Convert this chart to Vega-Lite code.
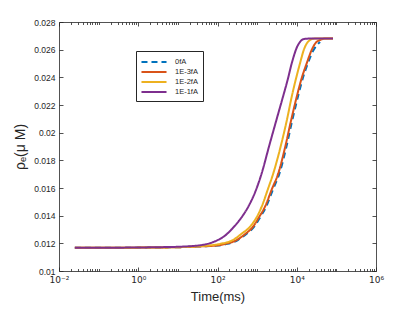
{
  "$schema": "https://vega.github.io/schema/vega-lite/v6.json",
  "width": 317,
  "height": 249,
  "autosize": {"type": "none"},
  "padding": {"left": 59, "top": 22, "right": 39, "bottom": 41},
  "background": "white",
  "config": {
    "view": {"stroke": null},
    "font": "Liberation Sans",
    "axis": {
      "domainColor": "#262626",
      "domainWidth": 0.8,
      "tickColor": "#262626",
      "tickWidth": 0.8,
      "labelColor": "#262626",
      "labelFont": "Liberation Sans",
      "labelFontSize": 8.5,
      "titleColor": "#262626",
      "titleFont": "Liberation Sans",
      "titleFontWeight": "normal",
      "grid": false
    },
    "legend": {
      "orient": "none",
      "legendX": 77,
      "legendY": 29,
      "title": null,
      "strokeColor": "#262626",
      "fillColor": "white",
      "padding": 5,
      "labelFont": "Liberation Sans",
      "labelFontSize": 7.5,
      "labelColor": "#262626",
      "symbolType": "M-2.7,0H2.7",
      "symbolSize": 86,
      "symbolStrokeWidth": 2,
      "symbolOffset": 7,
      "rowPadding": 0,
      "labelOffset": 15
    }
  },
  "data": {
    "values": [
      {"s": "0fA", "t": 0.02512, "y": 0.01168},
      {"s": "0fA", "t": 1, "y": 0.01169},
      {"s": "0fA", "t": 10, "y": 0.01172},
      {"s": "0fA", "t": 31.62, "y": 0.01177},
      {"s": "0fA", "t": 100, "y": 0.01184},
      {"s": "0fA", "t": 177.8, "y": 0.01196},
      {"s": "0fA", "t": 327.3, "y": 0.01224},
      {"s": "0fA", "t": 537.0, "y": 0.01268},
      {"s": "0fA", "t": 843.3, "y": 0.0132},
      {"s": "0fA", "t": 1202, "y": 0.0139},
      {"s": "0fA", "t": 1694, "y": 0.01465},
      {"s": "0fA", "t": 2512, "y": 0.0159},
      {"s": "0fA", "t": 3664, "y": 0.01706},
      {"s": "0fA", "t": 5408, "y": 0.0189},
      {"s": "0fA", "t": 7586, "y": 0.0208},
      {"s": "0fA", "t": 10715, "y": 0.0226},
      {"s": "0fA", "t": 14125, "y": 0.0239},
      {"s": "0fA", "t": 19055, "y": 0.02501},
      {"s": "0fA", "t": 25704, "y": 0.0259},
      {"s": "0fA", "t": 31623, "y": 0.0263},
      {"s": "0fA", "t": 38905, "y": 0.02655},

      {"s": "1E-3fA", "t": 0.02512, "y": 0.01168},
      {"s": "1E-3fA", "t": 1, "y": 0.01169},
      {"s": "1E-3fA", "t": 10, "y": 0.01172},
      {"s": "1E-3fA", "t": 31.62, "y": 0.01177},
      {"s": "1E-3fA", "t": 100, "y": 0.01185},
      {"s": "1E-3fA", "t": 158.5, "y": 0.01196},
      {"s": "1E-3fA", "t": 305.5, "y": 0.01224},
      {"s": "1E-3fA", "t": 501.2, "y": 0.01268},
      {"s": "1E-3fA", "t": 787.0, "y": 0.0132},
      {"s": "1E-3fA", "t": 1122, "y": 0.0139},
      {"s": "1E-3fA", "t": 1581, "y": 0.01465},
      {"s": "1E-3fA", "t": 2344, "y": 0.0159},
      {"s": "1E-3fA", "t": 3420, "y": 0.01706},
      {"s": "1E-3fA", "t": 5047, "y": 0.0189},
      {"s": "1E-3fA", "t": 7079, "y": 0.0208},
      {"s": "1E-3fA", "t": 10000, "y": 0.0226},
      {"s": "1E-3fA", "t": 13183, "y": 0.0239},
      {"s": "1E-3fA", "t": 17824, "y": 0.02501},
      {"s": "1E-3fA", "t": 23988, "y": 0.026},
      {"s": "1E-3fA", "t": 30200, "y": 0.0265},
      {"s": "1E-3fA", "t": 38637, "y": 0.0267},
      {"s": "1E-3fA", "t": 50119, "y": 0.0268},
      {"s": "1E-3fA", "t": 82224, "y": 0.0268},

      {"s": "1E-2fA", "t": 0.02512, "y": 0.01168},
      {"s": "1E-2fA", "t": 1, "y": 0.01169},
      {"s": "1E-2fA", "t": 10, "y": 0.01172},
      {"s": "1E-2fA", "t": 31.62, "y": 0.01178},
      {"s": "1E-2fA", "t": 63.1, "y": 0.01185},
      {"s": "1E-2fA", "t": 115.6, "y": 0.01196},
      {"s": "1E-2fA", "t": 245.5, "y": 0.01224},
      {"s": "1E-2fA", "t": 398.1, "y": 0.01268},
      {"s": "1E-2fA", "t": 660.7, "y": 0.0132},
      {"s": "1E-2fA", "t": 1000, "y": 0.01395},
      {"s": "1E-2fA", "t": 1303, "y": 0.01465},
      {"s": "1E-2fA", "t": 1862, "y": 0.0159},
      {"s": "1E-2fA", "t": 2559, "y": 0.01706},
      {"s": "1E-2fA", "t": 4169, "y": 0.0193},
      {"s": "1E-2fA", "t": 5623, "y": 0.0209},
      {"s": "1E-2fA", "t": 7464, "y": 0.0226},
      {"s": "1E-2fA", "t": 9550, "y": 0.0239},
      {"s": "1E-2fA", "t": 12078, "y": 0.02501},
      {"s": "1E-2fA", "t": 15136, "y": 0.026},
      {"s": "1E-2fA", "t": 21577, "y": 0.0267},
      {"s": "1E-2fA", "t": 28184, "y": 0.0268},
      {"s": "1E-2fA", "t": 82224, "y": 0.0268},

      {"s": "1E-1fA", "t": 0.02512, "y": 0.01168},
      {"s": "1E-1fA", "t": 0.1, "y": 0.01168},
      {"s": "1E-1fA", "t": 1, "y": 0.0117},
      {"s": "1E-1fA", "t": 3.162, "y": 0.01172},
      {"s": "1E-1fA", "t": 10, "y": 0.01175},
      {"s": "1E-1fA", "t": 19.95, "y": 0.01179},
      {"s": "1E-1fA", "t": 36.14, "y": 0.01186},
      {"s": "1E-1fA", "t": 63.1, "y": 0.01200},
      {"s": "1E-1fA", "t": 95.5, "y": 0.01220},
      {"s": "1E-1fA", "t": 158.5, "y": 0.01258},
      {"s": "1E-1fA", "t": 251.2, "y": 0.01315},
      {"s": "1E-1fA", "t": 398.1, "y": 0.01385},
      {"s": "1E-1fA", "t": 598.4, "y": 0.01465},
      {"s": "1E-1fA", "t": 891.3, "y": 0.0157},
      {"s": "1E-1fA", "t": 1303, "y": 0.01706},
      {"s": "1E-1fA", "t": 1995, "y": 0.019},
      {"s": "1E-1fA", "t": 3162, "y": 0.02105},
      {"s": "1E-1fA", "t": 4498, "y": 0.0226},
      {"s": "1E-1fA", "t": 5929, "y": 0.02385},
      {"s": "1E-1fA", "t": 7464, "y": 0.02501},
      {"s": "1E-1fA", "t": 8913, "y": 0.02575},
      {"s": "1E-1fA", "t": 10000, "y": 0.02615},
      {"s": "1E-1fA", "t": 12023, "y": 0.02655},
      {"s": "1E-1fA", "t": 14388, "y": 0.02675},
      {"s": "1E-1fA", "t": 19953, "y": 0.0268},
      {"s": "1E-1fA", "t": 82224, "y": 0.0268}
    ]
  },
  "layer": [
    {
      "mark": {"type": "line", "opacity": 0},
      "encoding": {
        "x": {
          "field": "t", "type": "quantitative",
          "scale": {"type": "log", "domain": [0.01, 1000000], "nice": false},
          "axis": {
            "orient": "top", "labels": false, "title": null,
            "values": [0.01,0.02,0.03,0.04,0.05,0.06,0.07,0.08,0.09,0.1,0.2,0.3,0.4,0.5,0.6,0.7,0.8,0.9,1,2,3,4,5,6,7,8,9,10,20,30,40,50,60,70,80,90,100,200,300,400,500,600,700,800,900,1000,2000,3000,4000,5000,6000,7000,8000,9000,10000,20000,30000,40000,50000,60000,70000,80000,90000,100000,200000,300000,400000,500000,600000,700000,800000,900000,1000000],
            "tickSize": {"condition": {"test": "datum.value==0.01||datum.value==1||datum.value==100||datum.value==10000||datum.value==1000000", "value": -4}, "value": -2.5}
          }
        },
        "y": {
          "field": "y", "type": "quantitative",
          "scale": {"domain": [0.01, 0.028], "nice": false, "zero": false},
          "axis": {
            "orient": "right", "labels": false, "title": null,
            "values": [0.01,0.012,0.014,0.016,0.018,0.02,0.022,0.024,0.026,0.028],
            "tickSize": -4
          }
        }
      }
    },
    {
      "transform": [{"filter": "datum.s=='0fA'"}],
      "mark": {"type": "line", "strokeWidth": 2, "interpolate": "monotone"},
      "encoding": {
        "x": {
          "field": "t", "type": "quantitative",
          "scale": {"type": "log", "domain": [0.01, 1000000], "nice": false},
          "axis": {
            "orient": "bottom",
            "title": "Time(ms)",
            "titleFontSize": 13,
            "titlePadding": 5,
            "labelPadding": 8,
            "labelFont": "DejaVu Sans",
            "labelFontSize": 9,
            "labelFlush": false,
            "labelOverlap": false,
            "values": [0.01,0.02,0.03,0.04,0.05,0.06,0.07,0.08,0.09,0.1,0.2,0.3,0.4,0.5,0.6,0.7,0.8,0.9,1,2,3,4,5,6,7,8,9,10,20,30,40,50,60,70,80,90,100,200,300,400,500,600,700,800,900,1000,2000,3000,4000,5000,6000,7000,8000,9000,10000,20000,30000,40000,50000,60000,70000,80000,90000,100000,200000,300000,400000,500000,600000,700000,800000,900000,1000000],
            "labelExpr": "datum.value==0.01 ? '10⁻²' : datum.value==1 ? '10⁰' : datum.value==100 ? '10²' : datum.value==10000 ? '10⁴' : datum.value==1000000 ? '10⁶' : ''",
            "tickSize": {"condition": {"test": "datum.value==0.01||datum.value==1||datum.value==100||datum.value==10000||datum.value==1000000", "value": -4}, "value": -2.5}
          }
        },
        "y": {
          "field": "y", "type": "quantitative",
          "scale": {"domain": [0.01, 0.028], "nice": false, "zero": false},
          "axis": {
            "orient": "left",
            "title": "ρₑ(μ M)",
            "titleFontSize": 14,
            "titlePadding": 6,
            "labelPadding": 8,
            "format": ".3~f",
            "values": [0.01,0.012,0.014,0.016,0.018,0.02,0.022,0.024,0.026,0.028],
            "tickSize": -4
          }
        },
        "color": {
          "field": "s", "type": "nominal",
          "scale": {"domain": ["0fA", "1E-3fA", "1E-2fA", "1E-1fA"], "range": ["#0072BD", "#D95319", "#EDB120", "#7E2F8E"]}
        },
        "strokeDash": {
          "field": "s", "type": "nominal",
          "scale": {"domain": ["0fA", "1E-3fA", "1E-2fA", "1E-1fA"], "range": [[6, 4], [1, 0], [1, 0], [1, 0]]}
        }
      }
    },
    {
      "transform": [{"filter": "datum.s=='1E-3fA'"}],
      "mark": {"type": "line", "strokeWidth": 2, "interpolate": "monotone"},
      "encoding": {
        "x": {"field": "t", "type": "quantitative", "scale": {"type": "log", "domain": [0.01, 1000000], "nice": false}, "axis": null},
        "y": {"field": "y", "type": "quantitative", "scale": {"domain": [0.01, 0.028], "nice": false, "zero": false}, "axis": null},
        "color": {"field": "s", "type": "nominal"},
        "strokeDash": {"field": "s", "type": "nominal"}
      }
    },
    {
      "transform": [{"filter": "datum.s=='1E-2fA'"}],
      "mark": {"type": "line", "strokeWidth": 2, "interpolate": "monotone"},
      "encoding": {
        "x": {"field": "t", "type": "quantitative", "scale": {"type": "log", "domain": [0.01, 1000000], "nice": false}, "axis": null},
        "y": {"field": "y", "type": "quantitative", "scale": {"domain": [0.01, 0.028], "nice": false, "zero": false}, "axis": null},
        "color": {"field": "s", "type": "nominal"},
        "strokeDash": {"field": "s", "type": "nominal"}
      }
    },
    {
      "transform": [{"filter": "datum.s=='1E-1fA'"}],
      "mark": {"type": "line", "strokeWidth": 2, "interpolate": "monotone"},
      "encoding": {
        "x": {"field": "t", "type": "quantitative", "scale": {"type": "log", "domain": [0.01, 1000000], "nice": false}, "axis": null},
        "y": {"field": "y", "type": "quantitative", "scale": {"domain": [0.01, 0.028], "nice": false, "zero": false}, "axis": null},
        "color": {"field": "s", "type": "nominal"},
        "strokeDash": {"field": "s", "type": "nominal"}
      }
    }
  ],
  "resolve": {"axis": {"x": "independent", "y": "independent"}}
}
